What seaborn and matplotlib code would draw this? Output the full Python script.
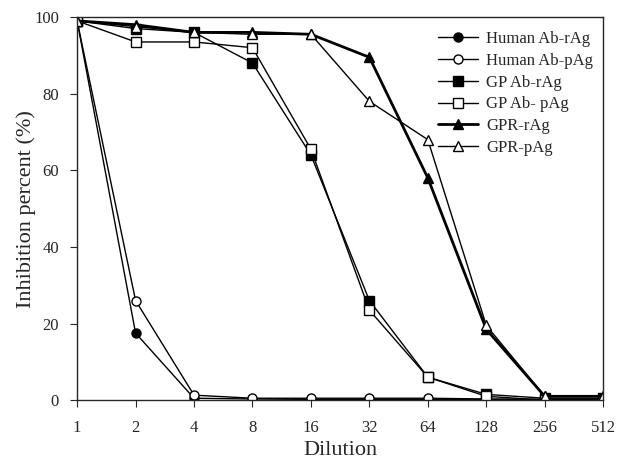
import pandas as pd
import seaborn as sns
import matplotlib.pyplot as plt
import numpy as np

# data
dilution = [1, 2, 4, 8, 16, 32, 64, 128, 256, 512]
human_ab_rag = [99, 17.5, 0.5, 0.3, 0.2, 0.2, 0.2, 0.2, 0.2, 0.2]
human_ab_pag = [99, 26, 1.3, 0.5, 0.5, 0.5, 0.5, 0.3, 0.2, 0.2]
gp_ab_rag = [99, 97, 96, 88, 64, 26, 6, 1.5, 0.5, 0.5]
gp_ab_pag = [99, 93.5, 93.5, 92, 65.5, 23.5, 6, 1, 0, 0]
gpr_rag = [99, 98, 96, 96, 95.5, 89.5, 58, 18.5, 1, 1]
gpr_pag = [99, 97.5, 96, 95.5, 95.5, 78, 68, 19.5, 1, 1]

series = {
    'Human Ab-rAg': human_ab_rag,
    'Human Ab-pAg': human_ab_pag,
    'GP Ab-rAg': gp_ab_rag,
    'GP Ab- pAg': gp_ab_pag,
    'GPR-rAg': gpr_rag,
    'GPR-pAg': gpr_pag,
}
markers = {'Human Ab-rAg': 'o', 'Human Ab-pAg': 'o', 'GP Ab-rAg': 's',
           'GP Ab- pAg': 's', 'GPR-rAg': '^', 'GPR-pAg': '^'}
filled = {'Human Ab-rAg': True, 'Human Ab-pAg': False, 'GP Ab-rAg': True,
          'GP Ab- pAg': False, 'GPR-rAg': True, 'GPR-pAg': False}

sns.set_style('ticks')
plt.rcParams['font.family'] = ['Liberation Serif', 'DejaVu Serif']

fig = plt.figure(figsize=(6.27, 4.61), dpi=100)
ax = fig.add_axes([0.123, 0.132, 0.839, 0.831])

for name, vals in series.items():
    df = pd.DataFrame({'dilution': dilution, 'value': vals})
    lw = 2.0 if name == 'GPR-rAg' else 1.0
    sns.lineplot(x='dilution', y='value', data=df, ax=ax, color='black',
                 linewidth=lw, marker=markers[name], markersize=6.5,
                 markerfacecolor='black' if filled[name] else 'white',
                 markeredgecolor='black', markeredgewidth=1, label=name)

ax.set_xscale('log', base=2)
ax.set_xticks(dilution)
ax.set_xticklabels([str(d) for d in dilution])
ax.minorticks_off()
ax.set_xlim(1, 512)
ax.set_ylim(0, 100)
ax.set_yticks([0, 20, 40, 60, 80, 100])
ax.tick_params(labelsize=12, direction='out', length=5, width=0.8)
ax.tick_params(axis='y', pad=8)
ax.tick_params(axis='x', pad=9)
for s in ax.spines.values():
    s.set_linewidth(1)
    s.set_visible(True)

ax.set_xlabel('Dilution', fontsize=16, labelpad=4)
ax.set_ylabel('Inhibition percent (%)', fontsize=16, labelpad=-1)

ax.legend(loc='upper right', bbox_to_anchor=(1.0, 0.99), frameon=False,
          fontsize=12, handlelength=2.4, labelspacing=0.35, handletextpad=0.5,
          borderaxespad=0.2)

plt.savefig('out.png', dpi=100)
